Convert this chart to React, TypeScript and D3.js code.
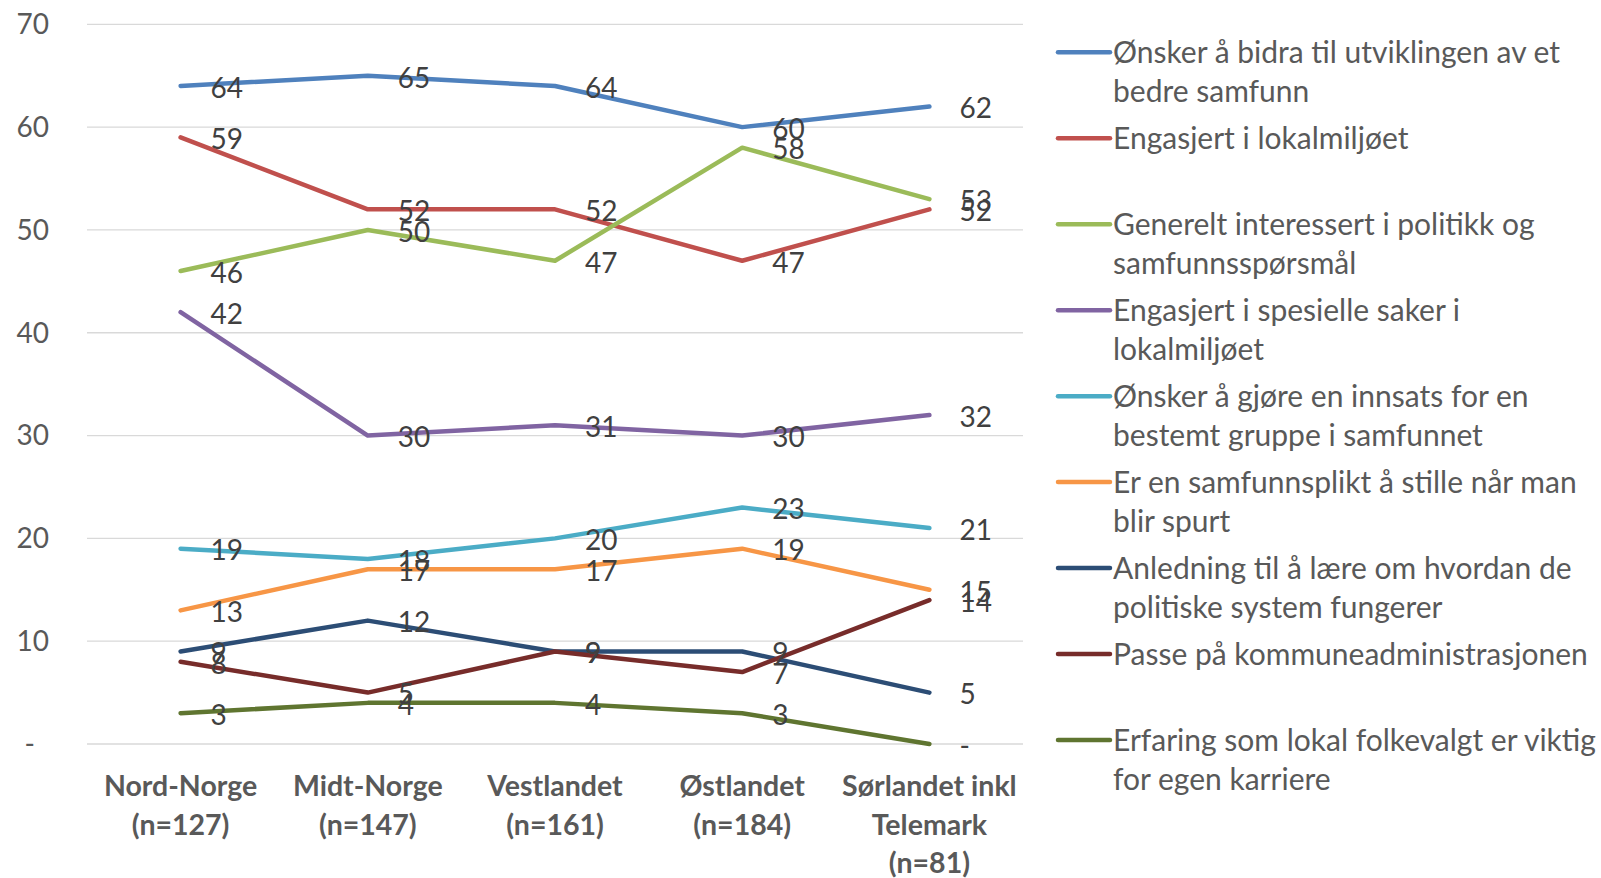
import React from "react";
import * as d3 from "d3";

const categories = [
  "Nord-Norge\n(n=127)",
  "Midt-Norge\n(n=147)",
  "Vestlandet\n(n=161)",
  "Østlandet\n(n=184)",
  "Sørlandet inkl\nTelemark\n(n=81)",
];

const seriesNames = [
  "Ønsker å bidra til utviklingen av et\nbedre samfunn",
  "Engasjert i lokalmiljøet",
  "Generelt interessert i politikk og\nsamfunnsspørsmål",
  "Engasjert i spesielle saker i\nlokalmiljøet",
  "Ønsker å gjøre en innsats for en\nbestemt gruppe i samfunnet",
  "Er en samfunnsplikt å stille når man\nblir spurt",
  "Anledning til å lære om hvordan de\npolitiske system fungerer",
  "Passe på kommuneadministrasjonen",
  "Erfaring som lokal folkevalgt er viktig\nfor egen karriere",
];

const seriesColors = [
  "#4F81BD",
  "#C0504D",
  "#9BBB59",
  "#8064A2",
  "#4BACC6",
  "#F79646",
  "#2C4D75",
  "#772C2A",
  "#5F7530",
];

const bidra = [64, 65, 64, 60, 62];
const lokalmiljo = [59, 52, 52, 47, 52];
const politikk = [46, 50, 47, 58, 53];
const spesielle = [42, 30, 31, 30, 32];
const innsats = [19, 18, 20, 23, 21];
const plikt = [13, 17, 17, 19, 15];
const laere = [9, 12, 9, 9, 5];
const passe = [8, 5, 9, 7, 14];
const karriere = [3, 4, 4, 3, 0];

const seriesValues = [bidra, lokalmiljo, politikk, spesielle, innsats, plikt, laere, passe, karriere];

const yTicks = [0, 10, 20, 30, 40, 50, 60, 70];

const FONT = "Lato, 'Open Sans', sans-serif";
const FS = 28;
const LFS = 30;

const fmt = (v: number) => (v === 0 ? "-" : String(v));

export default function App() {
  const W = 1601;
  const H = 878;
  const plotLeft = 87;
  const plotRight = 1023;
  const yTop = 24.3;
  const yBottom = 744;

  const x = d3.scaleBand<number>().domain(d3.range(categories.length)).range([plotLeft, plotRight]);
  const cx = (i: number) => (x(i) as number) + x.bandwidth() / 2;
  const y = d3.scaleLinear().domain([0, 70]).range([yBottom, yTop]);

  const line = d3
    .line<number>()
    .x((_, i) => cx(i))
    .y((d) => y(d));

  const legendY = d3.scaleLinear().domain([0, seriesNames.length - 1]).range([52.3, 740]);

  const capOff = FS * 0.35;
  const lcapOff = LFS * 0.35;

  return (
    <svg
      width={W}
      height={H}
      style={{ position: "absolute", left: 0, top: 0, display: "block", background: "#fff" }}
      fontFamily={FONT}
    >
      {/* gridlines */}
      {yTicks.map((t) => (
        <line key={t} x1={plotLeft} x2={plotRight} y1={y(t)} y2={y(t)} stroke="#D9D9D9" strokeWidth={1.3} />
      ))}
      {/* y tick labels */}
      {yTicks.map((t) => (
        <text
          key={t}
          x={t === 0 ? 35 : 49}
          y={y(t) + capOff}
          textAnchor="end"
          fontSize={FS}
          fill="#595959"
        >
          {fmt(t)}
        </text>
      ))}
      {/* category labels */}
      {categories.map((c, i) => (
        <text key={i} textAnchor="middle" fontSize={FS + 0.5} fontWeight="bold" fill="#595959">
          {c.split("\n").map((ln, j) => (
            <tspan key={j} x={cx(i)} y={796 + j * 38.5}>
              {ln}
            </tspan>
          ))}
        </text>
      ))}
      {/* lines */}
      {seriesValues.map((vals, s) => (
        <path
          key={s}
          d={line(vals) || ""}
          fill="none"
          stroke={seriesColors[s]}
          strokeWidth={4.5}
          strokeLinecap="round"
          strokeLinejoin="round"
        />
      ))}
      {/* data labels */}
      {seriesValues.map((vals, s) =>
        vals.map((v, i) => (
          <text key={s + "-" + i} x={cx(i) + 30} y={y(v) + 2 + capOff} fontSize={FS} fill="#404040">
            {fmt(v)}
          </text>
        ))
      )}
      {/* legend */}
      {seriesNames.map((n, s) => {
        const ly = legendY(s);
        return (
          <g key={s}>
            <line x1={1058} x2={1110} y1={ly} y2={ly} stroke={seriesColors[s]} strokeWidth={4.5} strokeLinecap="round" />
            <text fontSize={LFS} fill="#595959">
              {n.split("\n").map((ln, j) => (
                <tspan key={j} x={1113} y={ly + lcapOff + j * 39}>
                  {ln}
                </tspan>
              ))}
            </text>
          </g>
        );
      })}
    </svg>
  );
}
